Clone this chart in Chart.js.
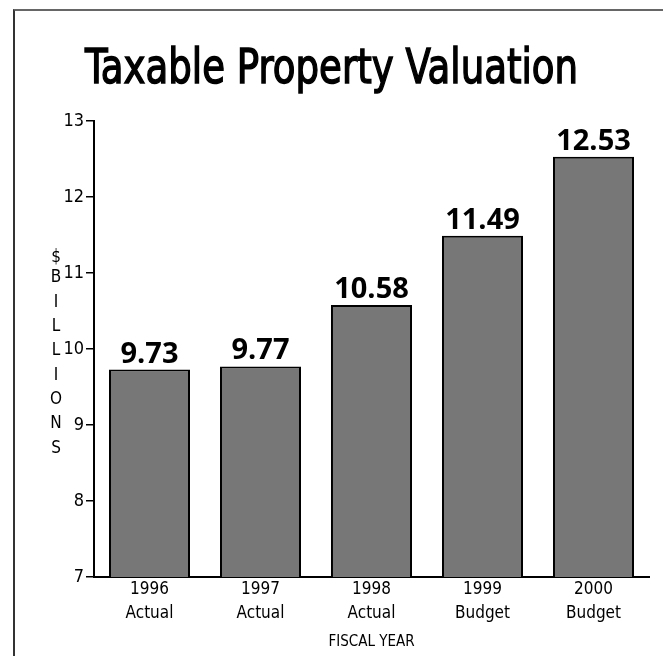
<!DOCTYPE html>
<html>
<head>
<meta charset="utf-8">
<title>Taxable Property Valuation</title>
<script src="https://cdn.jsdelivr.net/npm/chart.js@4.4.1/dist/chart.umd.min.js"></script>
<style>
  html, body { margin: 0; padding: 0; background: #fff; }
  #wrap { position: relative; width: 663px; height: 656px; overflow: hidden; }
  #frame {
    position: absolute; left: 13px; top: 9px; right: 0; bottom: 0;
    border-top: 2px solid #666; border-left: 2px solid #333;
  }
  #chart { position: absolute; left: 0; top: 0; }
</style>
</head>
<body>
<div id="wrap">
  <div id="frame"></div>
  <canvas id="chart" width="663" height="656"></canvas>
</div>
<script>
// ── Data ────────────────────────────────────────────────────────

const chartTitle = 'Taxable Property Valuation';
const years = ['1996', '1997', '1998', '1999', '2000'];
const kinds = ['Actual', 'Actual', 'Actual', 'Budget', 'Budget'];
const values = [9.73, 9.77, 10.58, 11.49, 12.53];
const yMin = 7;
const yMax = 13;
const yStep = 1;
const yTitle = '$BILLIONS';
const xTitle = 'FISCAL YEAR';

// ── Fonts ───────────────────────────────────────────────────────

const NARROW = '"Liberation Sans Narrow", "Arial Narrow", "DejaVu Sans Condensed", sans-serif';
const VALUE_FONT = 'bold 29px "Open Sans", "Noto Sans", sans-serif';

// ── Plugins ─────────────────────────────────────────────────────

// Big heading, fitted to a fixed width and thickened a little
const headingPlugin = {
    id: 'heading',
    afterDraw(chart) {
        const ctx = chart.ctx;
        ctx.save();
        ctx.font = '48px ' + NARROW;
        ctx.fillStyle = '#000';
        ctx.strokeStyle = '#000';
        ctx.textAlign = 'center';
        ctx.textBaseline = 'alphabetic';
        const w = ctx.measureText(chartTitle).width;
        const sx = 493 / w;
        ctx.translate(chart.width / 2, 83);
        ctx.scale(sx, 1);
        ctx.lineWidth = 1.4;
        ctx.fillText(chartTitle, 0, 0);
        ctx.strokeText(chartTitle, 0, 0);
        ctx.restore();
    }
};

// Stacked letters for the value axis title
const stackedTitlePlugin = {
    id: 'stackedTitle',
    afterDraw(chart) {
        const ctx = chart.ctx;
        ctx.save();
        ctx.font = '17px ' + NARROW;
        ctx.fillStyle = '#000';
        ctx.textAlign = 'center';
        ctx.textBaseline = 'middle';
        yTitle.split('').forEach((c, i) => {
            const y = i === 0 ? 258 : 278 + (i - 1) * 24.3;
            ctx.fillText(c, 56, y);
        });
        ctx.restore();
    }
};

// Value printed above each bar
const barValuePlugin = {
    id: 'barValue',
    afterDatasetsDraw(chart) {
        const ctx = chart.ctx;
        const meta = chart.getDatasetMeta(0);
        ctx.save();
        ctx.font = VALUE_FONT;
        ctx.fillStyle = '#000';
        ctx.textAlign = 'center';
        ctx.textBaseline = 'alphabetic';
        meta.data.forEach((bar, i) => {
            ctx.fillText(values[i].toFixed(2), bar.x, bar.y - 7);
        });
        ctx.restore();
    }
};

// ── Chart ───────────────────────────────────────────────────────

const labels = years.map((y, i) => [y, kinds[i]]);

new Chart(document.getElementById('chart'), {
    type: 'bar',
    data: {
        labels,
        datasets: [{
            data: values,
            backgroundColor: '#777777',
            borderColor: '#000',
            borderWidth: 2,
            borderSkipped: 'start',
            barPercentage: 0.73,
            categoryPercentage: 1,
        }],
    },
    options: {
        responsive: false,
        animation: false,
        layout: { padding: { top: 121, right: 14, bottom: 0, left: 0 } },
        plugins: {
            legend: { display: false },
            tooltip: { enabled: false },
            title: { display: false },
        },
        scales: {
            x: {
                grid: { display: false, drawTicks: false },
                border: { display: true, color: '#000', width: 2 },
                ticks: {
                    color: '#000',
                    font: { family: NARROW, size: 17, lineHeight: 1.38 },
                    padding: 1,
                    maxRotation: 0,
                    autoSkip: false,
                },
                title: {
                    display: true,
                    text: xTitle,
                    color: '#000',
                    font: { family: NARROW, size: 15, lineHeight: 1.2 },
                    padding: { top: 0, bottom: 5 },
                },
                afterFit: (s) => { s.height = 79; },
            },
            y: {
                min: yMin,
                max: yMax,
                grid: {
                    drawOnChartArea: false,
                    drawTicks: true,
                    tickLength: 8,
                    color: '#000',
                    lineWidth: 1.5,
                },
                border: { display: true, color: '#000', width: 2 },
                ticks: {
                    stepSize: yStep,
                    color: '#000',
                    font: { family: NARROW, size: 18 },
                    padding: 2,
                },
                afterFit: (s) => { s.width = 94; },
            },
        },
    },
    plugins: [headingPlugin, stackedTitlePlugin, barValuePlugin],
});
</script>
</body>
</html>
